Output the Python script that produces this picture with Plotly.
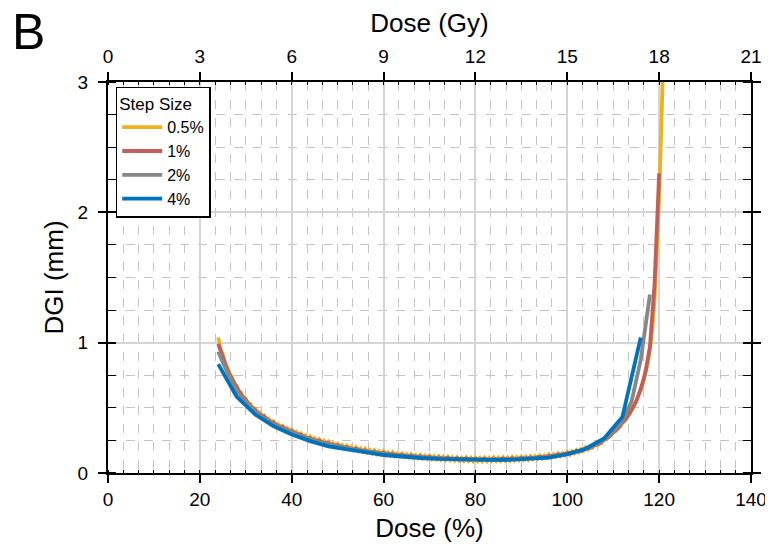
import numpy as np
import plotly.graph_objects as go

# dose grid for each step size (percent of prescription)
dose_05 = np.arange(24.0, 121.01, 0.5)
dose_1 = np.arange(24, 121, 1)
dose_2 = np.arange(24, 119, 2)
dose_4 = np.arange(24, 117, 4)

dgi_05 = [
    1.04, 0.95, 0.91, 0.84, 0.81, 0.76, 0.735, 0.685, 0.67, 0.62,
    0.615, 0.57, 0.57, 0.53, 0.53, 0.49, 0.495, 0.46, 0.465, 0.43,
    0.44, 0.405, 0.415, 0.38, 0.395, 0.363, 0.375, 0.345, 0.36, 0.33,
    0.345, 0.315, 0.332, 0.3, 0.315, 0.287, 0.302, 0.273, 0.288, 0.26,
    0.278, 0.25, 0.266, 0.239, 0.258, 0.229, 0.246, 0.219, 0.238, 0.21,
    0.228, 0.202, 0.222, 0.195, 0.213, 0.188, 0.208, 0.181, 0.2, 0.175,
    0.196, 0.169, 0.188, 0.163, 0.184, 0.157, 0.176, 0.152, 0.173, 0.147,
    0.167, 0.143, 0.166, 0.139, 0.158, 0.135, 0.157, 0.131, 0.15, 0.127,
    0.149, 0.124, 0.143, 0.121, 0.143, 0.118, 0.137, 0.115, 0.137, 0.112,
    0.132, 0.11, 0.132, 0.108, 0.128, 0.106, 0.128, 0.103, 0.124, 0.101,
    0.123, 0.099, 0.12, 0.097, 0.12, 0.095, 0.117, 0.094, 0.118, 0.093,
    0.116, 0.092, 0.117, 0.092, 0.115, 0.092, 0.117, 0.092, 0.115, 0.093,
    0.118, 0.093, 0.116, 0.094, 0.119, 0.095, 0.118, 0.096, 0.121, 0.097,
    0.12, 0.099, 0.124, 0.101, 0.124, 0.103, 0.128, 0.106, 0.129, 0.109,
    0.134, 0.112, 0.135, 0.116, 0.141, 0.12, 0.143, 0.125, 0.15, 0.13,
    0.153, 0.136, 0.161, 0.142, 0.166, 0.15, 0.176, 0.159, 0.183, 0.169,
    0.196, 0.181, 0.207, 0.195, 0.223, 0.212, 0.24, 0.233, 0.262, 0.257,
    0.288, 0.287, 0.318, 0.32, 0.35, 0.357, 0.39, 0.4, 0.432, 0.45,
    0.485, 0.51, 0.55, 0.59, 0.64, 0.69, 0.76, 0.84, 0.95, 1.1,
    1.33, 1.68, 2.12, 2.68, 3.35,
]
dgi_1 = [
    0.99, 0.88, 0.79, 0.72, 0.655, 0.60, 0.56, 0.515, 0.485, 0.45,
    0.435, 0.40, 0.39, 0.36, 0.355, 0.33, 0.323, 0.30, 0.295, 0.272,
    0.268, 0.25, 0.248, 0.23, 0.229, 0.212, 0.213, 0.197, 0.198, 0.183,
    0.186, 0.17, 0.174, 0.16, 0.164, 0.15, 0.156, 0.142, 0.147, 0.134,
    0.14, 0.128, 0.134, 0.122, 0.128, 0.117, 0.124, 0.113, 0.12, 0.109,
    0.116, 0.105, 0.113, 0.103, 0.111, 0.101, 0.11, 0.1, 0.109, 0.1,
    0.11, 0.101, 0.111, 0.103, 0.113, 0.105, 0.116, 0.109, 0.12, 0.114,
    0.126, 0.12, 0.133, 0.128, 0.142, 0.138, 0.153, 0.151, 0.168, 0.168,
    0.188, 0.192, 0.216, 0.225, 0.256, 0.274, 0.312, 0.34, 0.386, 0.425,
    0.485, 0.55, 0.645, 0.77, 0.97, 1.45, 2.30,
]
dgi_2 = [
    0.93, 0.77, 0.63, 0.545, 0.47, 0.42, 0.375, 0.34, 0.31, 0.28,
    0.257, 0.237, 0.22, 0.203, 0.19, 0.177, 0.166, 0.155, 0.147, 0.139,
    0.132, 0.126, 0.12, 0.116, 0.112, 0.108, 0.105, 0.103, 0.102, 0.101,
    0.102, 0.103, 0.105, 0.108, 0.112, 0.118, 0.125, 0.134, 0.146, 0.162,
    0.184, 0.214, 0.256, 0.315, 0.40, 0.55, 0.87, 1.37,
]
dgi_4 = [
    0.835, 0.586, 0.45, 0.36, 0.295, 0.245, 0.205, 0.18, 0.16, 0.138,
    0.125, 0.115, 0.108, 0.103, 0.10, 0.10, 0.102, 0.107, 0.118, 0.145,
    0.186, 0.265, 0.43, 1.04,
]

series = [
    ('0.5%', dose_05, dgi_05, '#EDB120'),
    ('1%', dose_1, dgi_1, '#C0605A'),
    ('2%', dose_2, dgi_2, '#878787'),
    ('4%', dose_4, dgi_4, '#0072BD'),
]

font = 'Liberation Sans, Arial, sans-serif'

fig = go.Figure()
for name, x, y, color in series:
    assert len(x) == len(y), name
    fig.add_trace(go.Scatter(
        x=x, y=y, mode='lines', name=name,
        line=dict(color=color, width=3.8),
    ))

# empty trace so the Gy axis is drawn on top
fig.add_trace(go.Scatter(x=[], y=[], xaxis='x2', showlegend=False, hoverinfo='skip'))

# the page body adds an 8px margin, so the figure is 8px smaller
fig.update_layout(
    width=765, height=536,
    margin=dict(l=100, r=22, t=74, b=71),
    plot_bgcolor='white', paper_bgcolor='white',
    font=dict(family=font, color='black', size=19),
    showlegend=True,
    legend=dict(
        x=0.012, y=0.988, xanchor='left', yanchor='top',
        bgcolor='white', bordercolor='black', borderwidth=1.5,
        font=dict(size=16),
        title=dict(text='Step Size', font=dict(size=17)),
        tracegroupgap=0, itemwidth=40,
    ),
    xaxis=dict(
        range=[0, 140], tickmode='linear', tick0=0, dtick=20,
        automargin=False,
        showline=True, linecolor='black', linewidth=2,
        ticks='outside', ticklen=8, tickwidth=2, tickcolor='black',
        ticklabelstandoff=0,
        showgrid=True, gridcolor='#d4d4d4', gridwidth=1.5,
        zeroline=False,
        minor=dict(dtick=20 / 6, tick0=0, ticks='inside', ticklen=3,
                   tickwidth=1, tickcolor='black', showgrid=False),
        title=dict(text='Dose (%)', font=dict(size=26), standoff=10),
    ),
    xaxis2=dict(
        range=[0, 21], overlaying='x', side='top', anchor='y',
        automargin=False,
        tickmode='linear', tick0=0, dtick=3,
        showline=True, linecolor='black', linewidth=2,
        ticks='outside', ticklen=8, tickwidth=2, tickcolor='black',
        ticklabelstandoff=1,
        showgrid=False, zeroline=False,
        minor=dict(dtick=0.5, tick0=0, ticks='inside', ticklen=3,
                   tickwidth=1, tickcolor='black', showgrid=True,
                   gridcolor='#c4c4c4', gridwidth=1, griddash='dash'),
        title=dict(text='Dose (Gy)', font=dict(size=26), standoff=14),
    ),
    yaxis=dict(
        range=[0, 3], tickmode='linear', tick0=0, dtick=1,
        automargin=False,
        showline=True, linecolor='black', linewidth=2, mirror='allticks',
        ticks='outside', ticklen=8, tickwidth=2, tickcolor='black',
        ticklabelstandoff=6,
        showgrid=True, gridcolor='#d4d4d4', gridwidth=1.5,
        zeroline=False,
        minor=dict(dtick=0.25, tick0=0, ticks='inside', ticklen=3,
                   tickwidth=1, tickcolor='black', showgrid=True,
                   gridcolor='#c4c4c4', gridwidth=1, griddash='dash'),
        title=dict(text='DGI (mm)', font=dict(size=26), standoff=7),
    ),
)

fig.add_annotation(
    text='B', xref='paper', yref='paper', x=-0.152, y=1.128,
    xanchor='left', yanchor='middle', showarrow=False,
    height=46, valign='middle',
    font=dict(size=50, family=font, color='black'),
)

fig.write_html('out.html')
